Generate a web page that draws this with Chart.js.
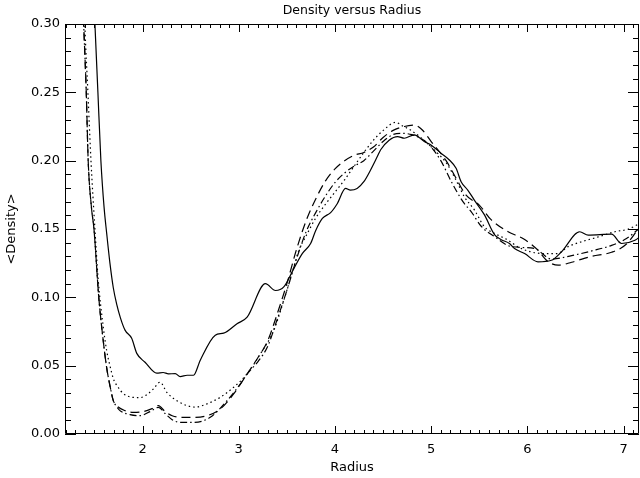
<!DOCTYPE html>
<html>
<head>
<meta charset="utf-8">
<script src="https://cdn.jsdelivr.net/npm/chart.js@4/dist/chart.umd.min.js"></script>
<style>
html,body{margin:0;padding:0;background:#fff;}
#wrap{width:640px;height:478px;}
</style>
</head>
<body>
<div id="wrap"><canvas id="c" width="640" height="478"></canvas></div>
<script>
// ---- data ----
const chartTitle = "Density versus Radius";
const xTitle = "Radius";
const yTitle = "<Density>";
const xTickValues = [2, 3, 4, 5, 6, 7];
const yTickValues = [0, 0.05, 0.10, 0.15, 0.20, 0.25, 0.30];

const solidR = [1.49,1.505,1.536,1.567,1.60,1.627,1.661,1.696,1.731,1.77,1.818,1.887,1.94,2.026,2.148,2.214,2.269,2.34,2.391,2.464,2.53,2.60,2.756,2.843,2.982,3.087,3.277,3.382,3.468,3.572,3.66,3.747,3.80,3.869,3.955,4.025,4.11,4.16,4.23,4.30,4.37,4.44,4.475,4.563,4.651,4.72,4.824,4.928,4.998,5.102,5.189,5.259,5.311,5.38,5.45,5.554,5.658,5.728,5.814,5.866,5.971,6.11,6.249,6.353,6.544,6.632,6.875,6.979,7.118,7.19];
const solidD = [0.325,0.300,0.250,0.200,0.166,0.147,0.125,0.107,0.095,0.085,0.076,0.070,0.059,0.0525,0.0445,0.045,0.044,0.0442,0.042,0.043,0.043,0.054,0.0723,0.0738,0.0807,0.0855,0.110,0.105,0.1076,0.121,0.132,0.1394,0.1489,0.1577,0.162,0.1687,0.1797,0.1785,0.1797,0.1846,0.1932,0.203,0.208,0.215,0.2176,0.2164,0.2189,0.214,0.2115,0.2054,0.2005,0.1944,0.1846,0.1785,0.171,0.1603,0.1459,0.1422,0.1394,0.1357,0.132,0.126,0.1271,0.1332,0.148,0.1455,0.1462,0.1394,0.1418,0.1455];

const dottedR = [1.39,1.40,1.432,1.464,1.505,1.539,1.591,1.627,1.661,1.696,1.748,1.80,1.89,1.974,2.06,2.113,2.182,2.252,2.357,2.461,2.547,2.669,2.808,2.947,3.087,3.225,3.364,3.468,3.572,3.625,3.7,3.8,3.9,4.0,4.1,4.2,4.3,4.4,4.5,4.63,4.7,4.78,4.88,5.03,5.17,5.275,5.345,5.45,5.554,5.66,5.8,5.9,6.04,6.18,6.31,6.42,6.56,6.736,6.91,7.05,7.19];
const dottedD = [0.325,0.300,0.250,0.200,0.150,0.113,0.0787,0.061,0.050,0.0406,0.034,0.0296,0.0269,0.0266,0.0296,0.033,0.0379,0.0305,0.0244,0.0208,0.0197,0.022,0.0269,0.0342,0.044,0.0587,0.0758,0.0978,0.1222,0.1345,0.145,0.158,0.168,0.177,0.186,0.196,0.206,0.215,0.222,0.228,0.2255,0.2226,0.2176,0.208,0.197,0.1834,0.1736,0.1638,0.1516,0.1467,0.1418,0.137,0.1332,0.132,0.132,0.137,0.1406,0.1442,0.148,0.150,0.155];

const dashedR = [1.375,1.388,1.415,1.435,1.47,1.495,1.545,1.591,1.627,1.661,1.696,1.731,1.818,1.904,2.008,2.099,2.165,2.235,2.308,2.391,2.53,2.669,2.808,2.947,3.087,3.2,3.3,3.4,3.5,3.6,3.7,3.8,3.9,4.0,4.1,4.2,4.3,4.4,4.5,4.6,4.72,4.82,4.9,5.0,5.155,5.26,5.36,5.5,5.62,5.8,5.954,6.11,6.2,6.32,6.46,6.666,6.875,7.03,7.19];
const dashedD = [0.325,0.300,0.250,0.200,0.165,0.150,0.100,0.0685,0.0486,0.0354,0.0244,0.0208,0.0171,0.0158,0.0164,0.0186,0.0208,0.0164,0.0134,0.0122,0.0122,0.0134,0.0183,0.0293,0.044,0.056,0.068,0.088,0.110,0.135,0.156,0.172,0.185,0.194,0.200,0.204,0.206,0.210,0.217,0.222,0.225,0.226,0.223,0.214,0.200,0.187,0.175,0.1675,0.157,0.148,0.143,0.1345,0.127,0.1235,0.1257,0.130,0.133,0.139,0.154];

const dashDotR = [1.375,1.388,1.415,1.435,1.47,1.495,1.545,1.591,1.627,1.661,1.696,1.731,1.765,1.87,1.974,2.078,2.165,2.245,2.308,2.391,2.53,2.704,2.878,3.017,3.1,3.2,3.3,3.4,3.5,3.6,3.7,3.8,3.9,4.0,4.1,4.2,4.3,4.4,4.5,4.6,4.7,4.8,4.9,4.98,5.1,5.21,5.33,5.417,5.52,5.655,5.83,6.075,6.25,6.46,6.67,6.875,7.03,7.19];
const dashDotD = [0.325,0.300,0.250,0.200,0.165,0.150,0.100,0.0685,0.0486,0.0354,0.0244,0.020,0.0171,0.0142,0.0134,0.0164,0.0195,0.0142,0.0105,0.0085,0.0085,0.0122,0.0244,0.0367,0.045,0.053,0.064,0.084,0.105,0.128,0.148,0.162,0.174,0.184,0.191,0.196,0.200,0.207,0.214,0.219,0.220,0.219,0.216,0.2115,0.200,0.1846,0.170,0.1626,0.152,0.1446,0.1372,0.1357,0.128,0.1305,0.134,0.138,0.143,0.152];

const pts = (xs, ys) => xs.map((x, i) => ({x: x, y: ys[i]}));

// inward IDL-style axis frame with major/minor ticks
const idlFrame = {
  id: 'idlFrame',
  afterDraw(chart) {
    const {ctx, chartArea: a, scales: {x, y}} = chart;
    ctx.save();
    ctx.strokeStyle = '#000';
    ctx.lineWidth = 1;
    ctx.beginPath();
    ctx.rect(a.left + 0.5, a.top + 0.5, a.right - a.left - 1, a.bottom - a.top - 1);
    ctx.stroke();
    ctx.beginPath();
    for (let k = 12; k <= 72; k++) {
      const v = k / 10;
      if (v < x.min || v > x.max) continue;
      const px = Math.round(x.getPixelForValue(v)) + 0.5;
      const len = (k % 10 === 0) ? 8 : 4;
      ctx.moveTo(px, a.bottom); ctx.lineTo(px, a.bottom - len);
      ctx.moveTo(px, a.top); ctx.lineTo(px, a.top + len);
    }
    for (let k = 0; k <= 30; k++) {
      const v = k / 100;
      const py = Math.round(y.getPixelForValue(v)) + 0.5;
      const len = (k % 5 === 0) ? 11 : 6;
      ctx.moveTo(a.left, py); ctx.lineTo(a.left + len, py);
      ctx.moveTo(a.right, py); ctx.lineTo(a.right - len, py);
    }
    ctx.stroke();
    ctx.restore();
  }
};

const FONT = 'DejaVu Sans';
const lineBase = {borderColor: '#000', backgroundColor: '#000', borderWidth: 1.2, pointRadius: 0, fill: false,
                  cubicInterpolationMode: 'monotone'};

new Chart(document.getElementById('c'), {
  type: 'line',
  data: {
    datasets: [
      Object.assign({label: 'solid', data: pts(solidR, solidD)}, lineBase),
      Object.assign({label: 'dotted', data: pts(dottedR, dottedD), borderDash: [1.5, 3]}, lineBase),
      Object.assign({label: 'dashed', data: pts(dashedR, dashedD), borderDash: [9, 5]}, lineBase),
      Object.assign({label: 'dash-dot', data: pts(dashDotR, dashDotD), borderDash: [7, 3, 1.5, 3]}, lineBase)
    ]
  },
  options: {
    responsive: false,
    animation: false,
    devicePixelRatio: 1,
    layout: {padding: {right: 1}},
    plugins: {
      legend: {display: false},
      tooltip: {enabled: false},
      title: {
        display: true,
        text: chartTitle,
        fullSize: false,
        color: '#000',
        font: {family: FONT, size: 12.5, weight: 'normal', lineHeight: 1.2},
        padding: {top: 3, bottom: 6}
      }
    },
    scales: {
      x: {
        type: 'linear',
        min: 1.194,
        max: 7.16,
        afterBuildTicks: s => { s.ticks = xTickValues.map(v => ({value: v})); },
        afterFit: s => { s.height = 44; },
        grid: {display: false, drawTicks: false},
        border: {display: false},
        ticks: {color: '#000', font: {family: FONT, size: 13}, padding: 8, maxRotation: 0, autoSkip: false,
                callback: v => String(v)},
        title: {display: true, text: xTitle, color: '#000', font: {family: FONT, size: 13}, padding: {top: 0, bottom: 3}}
      },
      y: {
        type: 'linear',
        min: 0,
        max: 0.30,
        afterBuildTicks: s => { s.ticks = yTickValues.map(v => ({value: v})); },
        afterFit: s => { s.width = 65; },
        grid: {display: false, drawTicks: false},
        border: {display: false},
        ticks: {color: '#000', font: {family: FONT, size: 13}, padding: 5, autoSkip: false,
                callback: v => Number(v).toFixed(2)},
        title: {display: true, text: yTitle, color: '#000', font: {family: FONT, size: 13}, padding: {top: 4, bottom: 0}}
      }
    }
  },
  plugins: [idlFrame]
});
</script>
</body>
</html>
